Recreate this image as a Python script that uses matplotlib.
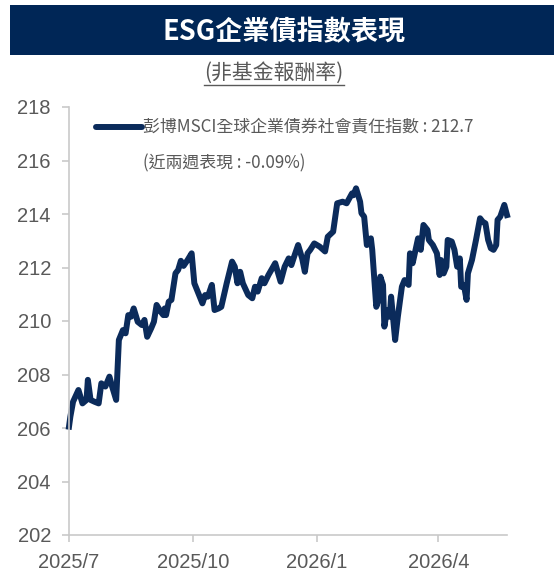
import matplotlib
matplotlib.use('Agg')
import matplotlib.pyplot as plt
import matplotlib.patches as patches
from matplotlib.lines import Line2D
import pandas as pd

plt.rcParams['font.family'] = ['Liberation Sans', 'Noto Sans CJK TC', 'DejaVu Sans']

# 資料
start_date = pd.Timestamp('2025-07-01')
day_offsets = [
    0, 1, 3, 7, 10, 13, 14, 16, 19, 22, 24, 27, 30, 32, 35, 37, 40, 42, 44, 46,
    48, 51, 54, 56, 58, 61, 63, 65, 68, 70, 71, 72, 74, 76, 79, 81, 83, 85, 88, 91,
    93, 96, 99, 101, 103, 106, 108, 111, 113, 117, 121, 123, 125, 127, 129, 133, 136, 138, 140, 143,
    145, 148, 153, 157, 160, 163, 165, 167, 170, 173, 175, 177, 179, 182, 186, 190, 192, 196, 199, 203,
    206, 210, 211, 213, 216, 217, 219, 221, 224, 225, 228, 230, 231, 233, 234, 236, 238, 239, 242, 244,
    247, 249, 252, 253, 255, 259, 261, 263, 266, 267, 270, 273, 275, 276, 278, 280, 281, 284, 286, 288,
    290, 291, 293, 295, 296, 299, 302, 305, 307, 309, 311, 313, 315, 317, 318, 320, 323, 325,
]
index_values = [
    206.05, 206.42, 206.98, 207.42, 206.92, 207.05, 207.80, 207.05, 206.98, 206.92,
    207.67, 207.55, 207.92, 207.55, 207.05, 209.29, 209.66, 209.54, 210.22, 210.16,
    210.47, 209.97, 209.85, 210.04, 209.41, 209.73, 209.97, 210.60, 210.35, 210.22,
    210.47, 210.22, 210.72, 210.79, 211.78, 211.91, 212.25, 212.06, 212.28, 212.53,
    211.41, 211.03, 210.66, 210.97, 210.91, 211.35, 210.41, 210.47, 210.53, 211.41,
    212.22, 212.03, 211.41, 211.84, 211.41, 210.97, 210.85, 211.28, 211.10, 211.60,
    211.41, 211.72, 212.16, 211.47, 212.03, 212.34, 212.09, 212.40, 212.84, 212.34,
    211.84, 212.53, 212.66, 212.90, 212.78, 212.60, 213.15, 213.34, 214.40, 214.46,
    214.40, 214.77, 214.70, 214.96, 214.46, 214.03, 213.90, 212.84, 213.09, 212.66,
    210.53, 210.85, 211.66, 211.35, 209.79, 210.41, 210.16, 210.91, 209.29, 210.16,
    211.28, 211.53, 211.35, 212.53, 212.16, 213.09, 212.66, 213.59, 213.40, 213.03,
    212.84, 212.53, 211.72, 212.28, 211.78, 212.03, 213.03, 212.97, 212.66, 212.03,
    212.34, 211.28, 211.35, 210.79, 211.78, 212.28, 213.03, 213.84, 213.71, 213.65,
    213.03, 212.72, 212.66, 212.84, 213.78, 213.90, 214.34, 213.96,
]
dates = start_date + pd.to_timedelta(day_offsets, unit='D')

tick_dates = pd.to_datetime(['2025-07-01', '2025-10-01', '2026-01-01', '2026-04-01'])
tick_labels = ['2025/7', '2025/10', '2026/1', '2026/4']
y_ticks = [202, 204, 206, 208, 210, 212, 214, 216, 218]

title = 'ESG企業債指數表現'
subtitle = '(非基金報酬率)'
legend_name = '彭博MSCI全球企業債券社會責任指數 : 212.7'
legend_note = '(近兩週表現 : -0.09%)'

navy = '#0b2b5b'
banner_color = '#002656'
grey_text = '#595959'
axis_grey = '#c9c9c9'

W, H = 554, 574
fig = plt.figure(figsize=(W / 100, H / 100), dpi=100)

# 標題橫幅
fig.add_artist(patches.Rectangle((10 / W, 1 - 55 / H), 1, 50 / H,
                                 transform=fig.transFigure, color=banner_color, lw=0))
fig.text(284 / W, 1 - 32 / H, title, color='white', fontsize=19.5, fontweight='bold',
         family=['Noto Sans CJK TC'], ha='center', va='center')

sub = fig.text(274 / W, 1 - 73 / H, subtitle, color=grey_text, fontsize=15,
               family=['Noto Sans CJK TC'], ha='center', va='center')

# 圖表
ax = fig.add_axes([69 / W, 1 - 535 / H, (507 - 69) / W, (535 - 107) / H])
ax.plot(dates, index_values, color=navy, lw=4.3, solid_joinstyle='round', clip_on=False)

ax.set_xlim(dates[0], dates[-1])
ax.set_ylim(202, 218)
ax.set_yticks(y_ticks)
ax.set_xticks(tick_dates)
ax.set_xticklabels(tick_labels)

for s in ['top', 'right']:
    ax.spines[s].set_visible(False)
for s in ['left', 'bottom']:
    ax.spines[s].set_color(axis_grey)
    ax.spines[s].set_linewidth(1.2)
ax.tick_params(colors=axis_grey, length=5, width=1.2, labelsize=14.5,
               labelcolor=grey_text, pad=8)

# 圖例
fig.add_artist(Line2D([96 / W, 142 / W], [1 - 127 / H, 1 - 127 / H], color=navy, lw=4.3,
                      solid_capstyle='round', transform=fig.transFigure))
fig.text(143 / W, 1 - 127 / H, legend_name, color=grey_text, fontsize=12.2,
         family=['Noto Sans CJK TC'], ha='left', va='center')
fig.text(143 / W, 1 - 163 / H, legend_note, color=grey_text, fontsize=12.2,
         family=['Noto Sans CJK TC'], ha='left', va='center')

# 副標題底線
fig.canvas.draw()
bb = sub.get_window_extent()
fig.add_artist(Line2D([bb.x0 / W, bb.x1 / W], [(bb.y0 - 1) / H, (bb.y0 - 1) / H],
                      color=grey_text, lw=1.0, transform=fig.transFigure))

fig.savefig('out.png', dpi=100)
